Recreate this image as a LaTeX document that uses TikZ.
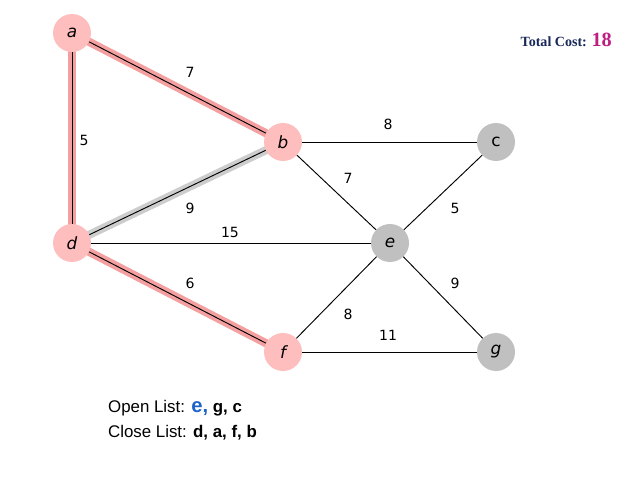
\documentclass[tikz,border=0pt]{standalone}
\usepackage{fontspec}
\setmainfont{Liberation Serif}
\setsansfont{Liberation Sans}
\newfontfamily\lblfont{DejaVu Sans}
\usetikzlibrary{positioning}
\definecolor{nodered}{RGB}{255,190,190}
\definecolor{nodegray}{RGB}{192,192,192}
\definecolor{hlred}{RGB}{245,160,160}
\definecolor{hlgray}{RGB}{205,205,205}
\definecolor{costblue}{RGB}{25,40,90}
\definecolor{costmag}{RGB}{190,30,130}
\definecolor{openblue}{RGB}{30,100,200}
\tikzset{
  vertex/.style  = {circle, minimum size=38*0.03cm, inner sep=0pt, font=\lblfont\itshape\Large},
  closed/.style  = {vertex, fill=nodered},
  open/.style    = {vertex, fill=nodegray},
  edge/.style    = {draw, line width=0.8pt},
  hlred/.style   = {draw=hlred, line width=7pt},
  hlgray/.style  = {draw=hlgray, line width=7pt},
  cost/.style    = {font=\lblfont\large, inner sep=1pt}
}
\begin{document}
\begin{tikzpicture}[x=0.03cm, y=-0.03cm]
\useasboundingbox (0,0) rectangle (638,478);

% highlighted tree edges
\draw[hlred]  (72,33) -- (283,142);
\draw[hlred]  (72,33) -- (72,243);
\draw[hlred]  (72,243) -- (283,352);
\draw[hlgray] (72,243) -- (283,142);

% vertices
\node[closed] (a) at (72,33)   {a};
\node[closed] (b) at (283,142) {b};
\node[open]   (c) at (496,142) {\upshape c};
\node[closed] (d) at (72,243)  {d};
\node[open]   (e) at (390,243) {e};
\node[closed] (f) at (283,352) {f};
\node[open]   (g) at (496,352) {g};

% edges
\draw[edge] (a) -- (b);
\draw[edge] (a) -- (d);
\draw[edge] (d) -- (f);
\draw[edge] (d) -- (b);
\draw[edge] (d) -- (e);
\draw[edge] (b) -- (c);
\draw[edge] (b) -- (e);
\draw[edge] (c) -- (e);
\draw[edge] (e) -- (f);
\draw[edge] (e) -- (g);
\draw[edge] (f) -- (g);

% costs
\node[cost] (wab) at (190,72)  {7};
\node[cost] (wad) at (84,140)  {5};
\node[cost] (wbc) at (388,124) {8};
\node[cost] (wbe) at (348,178) {7};
\node[cost] (wdb) at (190,208) {9};
\node[cost] (wde) at (230,232) {15};
\node[cost] (wce) at (455,208) {5};
\node[cost] (wdf) at (190,283) {6};
\node[cost] (weg) at (455,283) {9};
\node[cost] (wef) at (348,314) {8};
\node[cost] (wfg) at (388,335) {11};

% status
\node[anchor=east, font=\bfseries\large, text=costblue] (total) at (616,40)
  {Total Cost: \textcolor{costmag}{\LARGE 18}};
\node[anchor=west, font=\sffamily\Large] (openl) at (104,408)
  {Open List: \textcolor{openblue}{\textbf{\LARGE e,}} \textbf{g, c}};
\node[anchor=west, font=\sffamily\Large] (closel) at (104,433)
  {Close List: \textbf{d, a, f, b}};
\end{tikzpicture}
\end{document}
